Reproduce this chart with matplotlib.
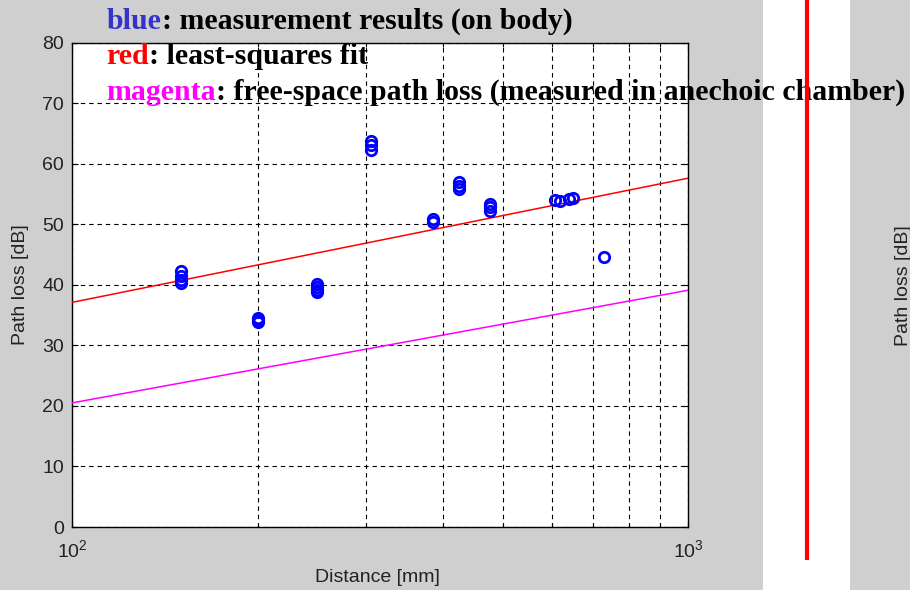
import matplotlib
matplotlib.use("Agg")
import matplotlib.pyplot as plt
import numpy as np
from matplotlib.patches import Rectangle
from matplotlib.lines import Line2D

# ---------------- data ----------------
dist_mm = [150, 150, 150, 150,
           200, 200, 200,
           250, 250, 250, 250,
           305, 305, 305,
           385, 385,
           424, 424, 424,
           476, 476, 476,
           608, 618,
           640, 650,
           729]
loss_db = [42.3, 41.5, 40.8, 40.3,
           34.5, 34.2, 33.9,
           40.2, 39.6, 39.1, 38.8,
           63.8, 63.0, 62.3,
           50.4, 50.9,
           55.8, 56.3, 56.9,
           52.2, 52.8, 53.4,
           54.0, 53.8,
           54.2, 54.4,
           44.6]
fit_dist = [100, 1000]
fit_loss = [37.1, 57.6]
fs_dist = [100, 1000]
fs_loss = [20.5, 39.1]
y_ticks = [0, 10, 20, 30, 40, 50, 60, 70, 80]
x_ticks = [100, 1000]
x_ticklabels = [r'$10^{2}$', r'$10^{3}$']
legend_lines = [("blue", ": measurement results (on body)", "#3333cc"),
                ("red", ": least-squares fit", "#ff0000"),
                ("magenta", ": free-space path loss (measured in anechoic chamber)", "#ff00ff")]

matplotlib.rcParams['mathtext.fontset'] = 'custom'
matplotlib.rcParams['mathtext.rm'] = 'Liberation Sans'
matplotlib.rcParams['mathtext.it'] = 'Liberation Sans'

W, H = 910, 590
fig = plt.figure(figsize=(W / 100, H / 100), dpi=100)
fig.patch.set_facecolor('#cfcfcf')

# white strip and red bar on the right (part of the composite image)
fig.add_artist(Rectangle((763 / W, 0), (850 - 763) / W, 1, transform=fig.transFigure,
                         facecolor='white', edgecolor='none', zorder=0))

L, R, T, B = 72.3, 688.3, 42.5, 527.0
ax = fig.add_axes([L / W, 1 - B / H, (R - L) / W, (B - T) / H])
ax.set_facecolor('white')
ax.set_xscale('log')
ax.set_xlim(100, 1000)
ax.set_ylim(0, 80)

ax.plot(fit_dist, fit_loss, color='#ff0000', lw=1.1, zorder=3)
ax.plot(fs_dist, fs_loss, color='#ff00ff', lw=1.1, zorder=3)
ax.plot(dist_mm, loss_db, linestyle='none', marker='o', markersize=7.5,
        markerfacecolor='none', markeredgecolor='#0000ff', markeredgewidth=2.0, zorder=4)

ax.set_yticks(y_ticks)
ax.set_xticks(x_ticks)
ax.set_xticklabels(x_ticklabels)
ax.xaxis.set_minor_locator(matplotlib.ticker.LogLocator(base=10, subs=np.arange(2, 10)))
ax.xaxis.set_minor_formatter(matplotlib.ticker.NullFormatter())

for lab in ax.get_yticklabels():
    lab.set_fontfamily('Liberation Sans'); lab.set_fontsize(14); lab.set_color('#222222')
for lab in ax.get_xticklabels():
    lab.set_fontsize(14); lab.set_color('#222222')

ax.tick_params(which='both', direction='in', top=True, right=True, color='black', width=0.8)
ax.tick_params(which='major', length=4.5)
ax.tick_params(which='minor', length=3)
ax.tick_params(axis='y', pad=6)
ax.tick_params(axis='x', pad=9)

grid_kw = dict(color='black', linewidth=0.8, linestyle=(0, (4, 3.5)))
ax.grid(True, which='major', axis='both', **grid_kw)
ax.grid(True, which='minor', axis='x', **grid_kw)
ax.set_axisbelow(True)
for s in ax.spines.values():
    s.set_linewidth(1.0)
    s.set_color('black')

# axis labels
fig.text(377 / W, 1 - 578 / H, 'Distance [mm]', ha='center', va='center',
         family='Liberation Sans', size=14, color='#222222')
fig.text(21 / W, 1 - 285 / H, 'Path loss [dB]', ha='center', va='center', rotation=90,
         family='Liberation Sans', size=14, color='#222222')
fig.text(904 / W, 1 - 286 / H, 'Path loss [dB]', ha='center', va='center', rotation=90,
         family='Liberation Sans', size=14, color='#222222')

# overlaid bold legend text
renderer = fig.canvas.get_renderer()
baselines = [29, 64.5, 100]
x0 = 106.7 / W
for (word, rest, col), bl in zip(legend_lines, baselines):
    t1 = fig.text(x0, 1 - bl / H, word, ha='left', va='baseline', color=col,
                  family='Liberation Serif', weight='bold', size=21.5, zorder=10)
    bb = t1.get_window_extent(renderer)
    fig.text(bb.x1 / fig.bbox.width, 1 - bl / H, rest, ha='left', va='baseline',
             color='black', family='Liberation Serif', weight='bold', size=21.5, zorder=10)

fig.add_artist(Line2D([806.7 / W, 806.7 / W], [1 - 560 / H, 1], transform=fig.transFigure,
                      color='#ff0000', lw=3.0, solid_capstyle='butt', zorder=20))

fig.savefig('out.png', dpi=100, facecolor=fig.get_facecolor())
